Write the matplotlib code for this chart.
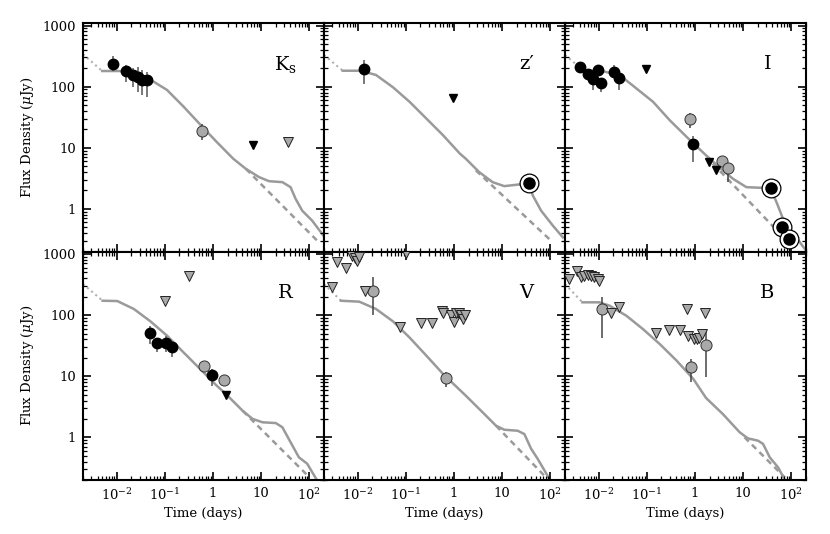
import numpy as np
import matplotlib.pyplot as plt
from matplotlib.ticker import FixedLocator, FixedFormatter, LogLocator, NullFormatter

plt.rcParams['font.family'] = ['DejaVu Serif']
plt.rcParams['mathtext.fontset'] = 'dejavuserif'

band_names = ['K$_{\\rm s}$', 'z\u2032', 'I', 'R', 'V', 'B']

# ---- Ks ----
ks_mod_t = [0.002, 0.005, 0.0115, 0.02, 0.035, 0.059, 0.111, 0.244, 0.54, 1.19, 2.62, 4.8, 9.0, 14.5, 27.4, 40.5, 51.4, 70.8, 113.5, 197]
ks_mod_f = [340, 180, 180, 168, 145, 120, 88, 47, 24, 12.4, 6.6, 4.5, 3.3, 2.83, 2.73, 2.26, 1.46, 0.93, 0.64, 0.36]
ks_dash_t = [4.8, 145]
ks_dash_f = [4.5, 0.30]
ks_blk_t = [0.0082, 0.0154, 0.0217, 0.0275, 0.0339, 0.043]
ks_blk_f = [233, 181, 155, 142, 128, 128]
ks_blk_lo = [178, 117, 99.5, 82, 73, 68]
ks_blk_hi = [313, 226, 200, 212, 187, 176]
ks_gry_t = [0.585]
ks_gry_f = [18.8]
ks_gry_lo = [13.2]
ks_gry_hi = [24.9]
ks_lim_t = [6.7]
ks_lim_f = [10.9]
ks_glim_t = [35]
ks_glim_f = [12.2]
ks_ring_t = []
ks_ring_f = []

# ---- z' ----
z_mod_t = [0.002, 0.0049, 0.0115, 0.024, 0.054, 0.119, 0.266, 0.59, 1.32, 1.75, 3.3, 6.3, 11.0, 19.3, 28.7, 36.5, 43, 64, 112, 181]
z_mod_f = [330, 182, 182, 155, 97.5, 56.5, 30, 16, 8.0, 6.6, 4.0, 2.73, 2.35, 2.47, 2.57, 2.57, 1.65, 0.93, 0.53, 0.34]
z_dash_t = [2.83, 103]
z_dash_f = [4.25, 0.30]
z_blk_t = [0.0138]
z_blk_f = [192]
z_blk_lo = [110]
z_blk_hi = [274]
z_gry_t, z_gry_f, z_gry_lo, z_gry_hi = [], [], [], []
z_lim_t = [0.93]
z_lim_f = [64]
z_glim_t, z_glim_f = [], []
z_ring_t = [36.5]
z_ring_f = [2.6]

# ---- I ----
i_mod_t = [0.002, 0.0049, 0.0115, 0.027, 0.051, 0.134, 0.30, 0.67, 1.69, 3.77, 6.1, 11.6, 25.7, 37, 50.6, 69, 207]
i_mod_f = [330, 182, 180, 155, 104, 56.5, 28, 15, 7.5, 4.25, 3.1, 2.26, 2.2, 2.17, 1.2, 0.64, 0.2]
i_dash_t = [2.33, 80]
i_dash_f = [5.5, 0.30]
i_blk_t = [0.0041, 0.0059, 0.0077, 0.0095, 0.0112, 0.0206, 0.0258, 0.916]
i_blk_f = [212, 161, 135, 187, 116, 176, 138, 11.4]
i_blk_lo = [200, 150, 88, 175, 82, 160, 88, 5.8]
i_blk_hi = [225, 172, 150, 200, 128, 226, 150, 15.8]
i_gry_t = [0.78, 3.6, 4.8]
i_gry_f = [29.3, 6.0, 4.6]
i_gry_lo = [20.8, 5.0, 2.73]
i_gry_hi = [36.6, 7.2, 5.6]
i_lim_t = [0.098, 1.98, 2.73]
i_lim_f = [192, 5.8, 4.25]
i_glim_t, i_glim_f = [], []
i_ring_t = [37, 64, 88]
i_ring_f = [2.17, 0.51, 0.32]

# ---- R ----
r_mod_t = [0.002, 0.0051, 0.0103, 0.0227, 0.0502, 0.111, 0.244, 0.54, 1.19, 1.85, 4.1, 6.6, 10.6, 20, 27.4, 40.5, 60.3, 89.5, 145]
r_mod_f = [323, 172, 170, 126, 79, 46, 24.5, 13.1, 7.0, 5.1, 2.72, 2.0, 1.76, 1.71, 1.46, 0.83, 0.47, 0.37, 0.195]
r_dash_t = [4.1, 95]
r_dash_f = [2.72, 0.23]
r_blk_t = [0.0486, 0.069, 0.106, 0.141, 0.94]
r_blk_f = [50.4, 35, 35, 29.7, 10.6]
r_blk_lo = [33.6, 24.5, 24.5, 20.4, 7.0]
r_blk_hi = [67, 40.6, 46, 38, 13.1]
r_gry_t = [0.66, 1.69]
r_gry_f = [14.5, 8.7]
r_gry_lo = [12.3, 7.4]
r_gry_hi = [16.9, 10.2]
r_lim_t = [1.85]
r_lim_f = [5.0]
r_glim_t = [0.099, 0.32]
r_glim_f = [172, 431]
r_ring_t, r_ring_f = [], []

# ---- V ----
v_mod_t = [0.002, 0.0045, 0.0108, 0.024, 0.054, 0.119, 0.266, 0.59, 1.75, 3.9, 7.4, 11.0, 20.9, 28.7, 39.6, 54.6, 98]
v_mod_f = [323, 172, 166, 126, 79, 43, 21.7, 10.9, 4.8, 2.57, 1.55, 1.33, 1.28, 1.13, 0.65, 0.44, 0.2]
v_dash_t = [7.4, 81]
v_dash_f = [1.55, 0.22]
v_blk_t, v_blk_f, v_blk_lo, v_blk_hi = [], [], [], []
v_gry_t = [0.0212, 0.67]
v_gry_f = [251, 9.4]
v_gry_lo = [100, 6.6]
v_gry_hi = [416, 11.6]
v_lim_t, v_lim_f = [], []
v_glim_t = [0.0029, 0.0038, 0.0057, 0.0075, 0.0088, 0.0097, 0.0104, 0.0143, 0.099, 0.074, 0.21, 0.35,
            0.56, 0.6, 0.88, 1.0, 1.12, 1.25, 1.4, 1.5, 1.67]
v_glim_f = [292, 731, 590, 940, 850, 760, 880, 251, 1050, 65, 74, 74,
            118, 108, 100, 76, 108, 108, 100, 86, 100]
v_ring_t, v_ring_f = [], []

# ---- B ----
b_mod_t = [0.002, 0.0046, 0.0103, 0.0167, 0.0373, 0.083, 0.185, 0.413, 0.92, 1.69, 3.77, 8.4, 12.5, 20.2, 25.7, 35.4, 53, 72.8]
b_mod_f = [323, 162, 162, 143, 98, 59, 33.6, 18, 9.0, 4.4, 2.4, 1.21, 0.96, 0.88, 0.78, 0.47, 0.32, 0.2]
b_dash_t = [10.6, 72.8]
b_dash_f = [1.0, 0.22]
b_blk_t, b_blk_f, b_blk_lo, b_blk_hi = [], [], [], []
b_gry_t = [0.0116, 0.82, 1.66]
b_gry_f = [124, 14, 32.4]
b_gry_lo = [43, 7.9, 9.6]
b_gry_hi = [195, 19.1, 55.6]
b_lim_t, b_lim_f = [], []
b_glim_t = [0.00244, 0.00347, 0.0043, 0.005, 0.0059, 0.0069, 0.0081, 0.0095, 0.0103,
            0.0182, 0.0262, 0.153, 0.289, 0.484, 0.69, 0.72, 0.96, 1.08, 1.22, 1.39, 1.61]
b_glim_f = [390, 533, 415, 442, 458, 442, 415, 390, 366,
            108, 137, 51, 57, 57, 126, 46, 40.6, 40, 42, 49, 110]
b_ring_t, b_ring_f = [], []

panels = [
    (ks_mod_t, ks_mod_f, ks_dash_t, ks_dash_f, ks_blk_t, ks_blk_f, ks_blk_lo, ks_blk_hi,
     ks_gry_t, ks_gry_f, ks_gry_lo, ks_gry_hi, ks_lim_t, ks_lim_f, ks_glim_t, ks_glim_f, ks_ring_t, ks_ring_f),
    (z_mod_t, z_mod_f, z_dash_t, z_dash_f, z_blk_t, z_blk_f, z_blk_lo, z_blk_hi,
     z_gry_t, z_gry_f, z_gry_lo, z_gry_hi, z_lim_t, z_lim_f, z_glim_t, z_glim_f, z_ring_t, z_ring_f),
    (i_mod_t, i_mod_f, i_dash_t, i_dash_f, i_blk_t, i_blk_f, i_blk_lo, i_blk_hi,
     i_gry_t, i_gry_f, i_gry_lo, i_gry_hi, i_lim_t, i_lim_f, i_glim_t, i_glim_f, i_ring_t, i_ring_f),
    (r_mod_t, r_mod_f, r_dash_t, r_dash_f, r_blk_t, r_blk_f, r_blk_lo, r_blk_hi,
     r_gry_t, r_gry_f, r_gry_lo, r_gry_hi, r_lim_t, r_lim_f, r_glim_t, r_glim_f, r_ring_t, r_ring_f),
    (v_mod_t, v_mod_f, v_dash_t, v_dash_f, v_blk_t, v_blk_f, v_blk_lo, v_blk_hi,
     v_gry_t, v_gry_f, v_gry_lo, v_gry_hi, v_lim_t, v_lim_f, v_glim_t, v_glim_f, v_ring_t, v_ring_f),
    (b_mod_t, b_mod_f, b_dash_t, b_dash_f, b_blk_t, b_blk_f, b_blk_lo, b_blk_hi,
     b_gry_t, b_gry_f, b_gry_lo, b_gry_hi, b_lim_t, b_lim_f, b_glim_t, b_glim_f, b_ring_t, b_ring_f),
]

xticks = [1e-2, 1e-1, 1, 10, 100]
xticklabels = ['10$^{-2}$', '10$^{-1}$', '1', '10', '10$^{2}$']
yticks = [1, 10, 100, 1000]
yticklabels = ['1', '10', '100', '1000']

curve_col = '#9a9a9a'
fill_gray = '#a9a9a9'

fig, axes = plt.subplots(2, 3, figsize=(8.3, 5.34), dpi=100, sharex=True, sharey=True)
fig.subplots_adjust(left=83 / 830, right=806 / 830, top=1 - 23 / 534, bottom=1 - 480 / 534,
                    wspace=0, hspace=0)

for k, ax in enumerate(axes.flat):
    (mt, mf, dt, df, bt, bf, blo, bhi, gt, gf, glo, ghi,
     lt, lf, glt, glf, rt, rf) = panels[k]

    # model: dotted rise, solid light curve, dashed afterglow-only
    ax.plot(mt[:2], mf[:2], color='#b0b0b0', lw=1.5, ls=(0, (1, 1.6)), zorder=1)
    ax.plot(mt[1:], mf[1:], color=curve_col, lw=1.8, zorder=1)
    ax.plot(dt, df, color=curve_col, lw=1.8, ls=(0, (2.4, 1.8)), zorder=1)

    ax.vlines(bt, blo, bhi, color='#555555', lw=1.1, zorder=2)
    ax.vlines(gt, glo, ghi, color='#444444', lw=1.1, zorder=2)

    ax.plot(gt, gf, 'o', ms=8, mfc=fill_gray, mec='#333333', mew=0.7, zorder=3)
    ax.plot(glt, glf, 'v', ms=6.5, mfc=fill_gray, mec='#222222', mew=0.7, zorder=3)
    ax.plot(lt, lf, 'v', ms=5.5, color='black', zorder=3)
    ax.plot(rt, rf, 'o', ms=13.5, mfc='white', mec='black', mew=0.9, zorder=4)
    ax.plot(rt, rf, 'o', ms=8, color='black', zorder=5)
    ax.plot(bt, bf, 'o', ms=7.5, color='black', zorder=3)

    ax.text(0.84, 0.82, band_names[k], transform=ax.transAxes, fontsize=14,
            ha='center', va='center')

    ax.set_xscale('log')
    ax.set_yscale('log')
    ax.set_xlim(0.002, 200)
    ax.set_ylim(0.2, 1100)

    ax.xaxis.set_major_locator(FixedLocator(xticks))
    ax.xaxis.set_major_formatter(FixedFormatter(xticklabels))
    ax.xaxis.set_minor_locator(LogLocator(base=10, subs=np.arange(2, 10)))
    ax.xaxis.set_minor_formatter(NullFormatter())
    ax.yaxis.set_major_locator(FixedLocator(yticks))
    ax.yaxis.set_major_formatter(FixedFormatter(yticklabels))
    ax.yaxis.set_minor_locator(LogLocator(base=10, subs=np.arange(2, 10)))
    ax.yaxis.set_minor_formatter(NullFormatter())

    ax.tick_params(which='both', direction='in', top=True, right=True, labelsize=9.5)
    ax.tick_params(which='major', length=6, width=1.2, pad=5)
    ax.tick_params(which='minor', length=3, width=0.9)
    for s in ax.spines.values():
        s.set_linewidth(1.5)

for ax in axes[1]:
    pos = ax.get_position()
    fig.text((pos.x0 + pos.x1) / 2, 1 - 513 / 534, 'Time (days)', ha='center', va='center', fontsize=9.5)
for ax in axes[:, 0]:
    pos = ax.get_position()
    fig.text(28 / 830, (pos.y0 + pos.y1) / 2, 'Flux Density ($\\mu$Jy)', rotation=90,
             ha='center', va='center', fontsize=9.5)

fig.savefig('out.png', dpi=100)
